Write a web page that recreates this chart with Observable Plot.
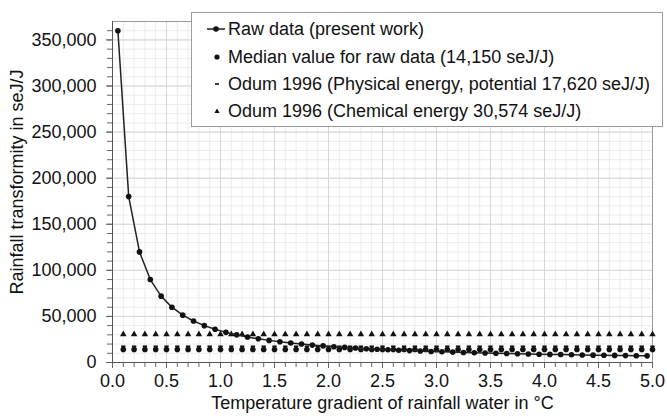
<!DOCTYPE html>
<html>
<head>
<meta charset="utf-8">
<script src="https://cdn.jsdelivr.net/npm/d3@7"></script>
<script src="https://cdn.jsdelivr.net/npm/@observablehq/plot@0.6"></script>
<style>
  html, body { margin: 0; padding: 0; background: #fff; }
  #wrap { position: relative; width: 667px; height: 416px; font-family: "Liberation Sans", Arial, sans-serif; }
  #legend { position: absolute; left: 191px; top: 12px; width: 472px; height: 115px; border: 1px solid #9a9a9a; background: #fff; box-sizing: border-box; }
  .row { position: absolute; left: 0; height: 24px; line-height: 24px; font-size: 18px; color: #111; white-space: nowrap; }
  .row svg { position: absolute; left: 14px; top: 2px; }
  .row span { position: absolute; left: 36px; }
</style>
</head>
<body>
<div id="wrap"></div>
<script>
// Raw data (present work): temperature gradient (ºC) and transformity (seJ/J)
const rawX = [0.05,0.15,0.25,0.35,0.45,0.55,0.65,0.75,0.85,0.95,
              1.05,1.15,1.25,1.35,1.45,1.55,1.65,1.75,1.85,1.95,
              2.05,2.15,2.25,2.35,2.45,2.55,2.65,2.75,2.85,2.95,
              3.05,3.15,3.25,3.35,3.45,3.55,3.65,3.75,3.85,3.95,
              4.05,4.15,4.25,4.35,4.45,4.55,4.65,4.75,4.85,4.95];
const rawY = [360000,180000,120000,90000,72000,60000,51400,45000,40000,36000,
              32700,30000,27700,25700,24000,22500,21200,20000,18900,18000,
              17100,16400,15700,15000,14400,13800,13300,12900,12400,12000,
              11600,11300,10900,10600,10300,10000,9700,9500,9200,9000,
              8800,8600,8400,8200,8000,7800,7700,7500,7300,7200];
// Reference series positions
const refX = [0.1,0.2,0.3,0.4,0.5,0.6,0.7,0.8,0.9,1.0,
              1.1,1.2,1.3,1.4,1.5,1.6,1.7,1.8,1.9,2.0,
              2.1,2.2,2.3,2.4,2.5,2.6,2.7,2.8,2.9,3.0,
              3.1,3.2,3.3,3.4,3.5,3.6,3.7,3.8,3.9,4.0,
              4.1,4.2,4.3,4.4,4.5,4.6,4.7,4.8,4.9,5.0];
const medianValue = 14150;
const odumPhysical = 17620;
const odumChemical = 30574;

const xTicks = [0,0.5,1,1.5,2,2.5,3,3.5,4,4.5,5];
const yTicks = [0,50000,100000,150000,200000,250000,300000,350000];
const xMinorTicks = d3.range(0, 5.0001, 0.1);
const yMinorTicks = d3.range(0, 370001, 10000);

const legendLabels = [
  "Raw data (present work)",
  "Median value for raw data (14,150 seJ/J)",
  "Odum 1996 (Physical energy, potential 17,620 seJ/J)",
  "Odum 1996 (Chemical energy 30,574 seJ/J)"
];
const xTitle = "Temperature gradient of rainfall water in °C";
const yTitle = "Rainfall transformity in seJ/J";

const raw = rawX.map((x, i) => ({x, y: rawY[i]}));
const refs = refX.map(x => ({x, median: medianValue, phys: odumPhysical, chem: odumChemical}));

const dashSymbol = {
  draw(ctx, size) {
    const w = 2.2, h = 0.8;
    ctx.moveTo(-w, -h); ctx.lineTo(w, -h); ctx.lineTo(w, h); ctx.lineTo(-w, h); ctx.closePath();
  }
};

const chart = Plot.plot({
  width: 667,
  height: 416,
  marginLeft: 112,
  marginRight: 15,
  marginTop: 21,
  marginBottom: 54,
  style: {fontFamily: "'Liberation Sans', Arial, sans-serif", fontSize: "18px", color: "#111", background: "#fff"},
  x: {domain: [0, 5]},
  y: {domain: [0, 370000]},
  marks: [
    Plot.gridX(xMinorTicks, {stroke: "#ececec", strokeOpacity: 1}),
    Plot.gridY(yMinorTicks, {stroke: "#ececec", strokeOpacity: 1}),
    Plot.gridX(xTicks, {stroke: "#d6d6d6", strokeOpacity: 1}),
    Plot.gridY(yTicks, {stroke: "#d6d6d6", strokeOpacity: 1}),
    Plot.frame({stroke: "#999"}),
    Plot.axisY(yMinorTicks.filter(v => v <= 360000), {tickSize: 5, tickFormat: () => "", label: null, stroke: "#666"}),
    Plot.axisY(yTicks, {tickSize: 6, tickPadding: 10, tickFormat: d3.format(","), label: null, fontSize: 18, stroke: "#666"}),
    Plot.axisX(xMinorTicks, {tickSize: 5, tickFormat: () => "", label: null, stroke: "#666"}),
    Plot.axisX(xTicks, {tickSize: 6, tickPadding: 6, tickFormat: d3.format(".1f"), label: null, fontSize: 18, stroke: "#666"}),
    Plot.ruleX([0], {stroke: "#555"}),
    Plot.ruleY([0], {stroke: "#555"}),
    Plot.text([xTitle], {frameAnchor: "bottom", textAnchor: "middle", dy: 46, fontSize: 18, fill: "#111"}),
    Plot.text([yTitle], {frameAnchor: "left", textAnchor: "middle", rotate: -90, dx: -95, dy: -10, fontSize: 18, fill: "#111"}),
    Plot.dot(refs, {x: "x", y: "chem", symbol: "triangle", r: 2.4, fill: "#111", stroke: "none"}),
    Plot.dot(refs, {x: "x", y: "median", r: 2.8, fill: "#111", stroke: "none"}),
    Plot.dot(refs, {x: "x", y: "phys", symbol: dashSymbol, fill: "#111", stroke: "none"}),
    Plot.line(raw, {x: "x", y: "y", stroke: "#222", strokeWidth: 1.5}),
    Plot.dot(raw, {x: "x", y: "y", r: 2.8, fill: "#111", stroke: "none"})
  ]
});

const wrap = document.getElementById("wrap");
wrap.appendChild(chart);

// Legend
const legend = document.createElement("div");
legend.id = "legend";
const rowTops = [4, 32, 59, 86];
const symbols = [
  '<svg width="20" height="20"><line x1="1" y1="10" x2="19" y2="10" stroke="#222" stroke-width="1.5"/><circle cx="10" cy="10" r="2.8" fill="#111"/></svg>',
  '<svg width="20" height="20"><circle cx="11" cy="10" r="2.6" fill="#111"/></svg>',
  '<svg width="20" height="20"><rect x="9" y="9.2" width="4" height="1.6" fill="#111"/></svg>',
  '<svg width="20" height="20"><path d="M11,7.5 L13.6,12 L8.4,12 Z" fill="#111"/></svg>'
];
legendLabels.forEach((lab, i) => {
  const row = document.createElement("div");
  row.className = "row";
  row.style.top = rowTops[i] + "px";
  row.innerHTML = symbols[i] + "<span>" + lab + "</span>";
  legend.appendChild(row);
});
wrap.appendChild(legend);
</script>
</body>
</html>
